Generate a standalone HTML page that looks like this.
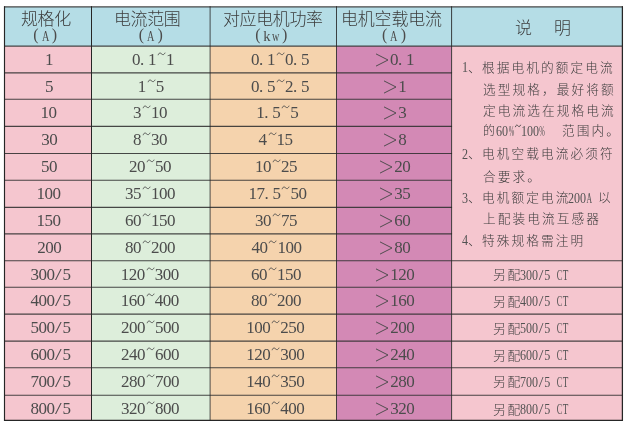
<!DOCTYPE html>
<html lang="zh-CN">
<head>
<meta charset="utf-8">
<title>规格选型表</title>
<style>
html,body{margin:0;padding:0;background:#fff;}
body{width:628px;height:429px;overflow:hidden;position:relative;font-family:"Liberation Serif",serif;color:#454545;}
#tbl{position:absolute;left:0;top:0;width:628px;height:429px;}
#txt{position:absolute;left:0;top:0;width:628px;height:429px;will-change:transform;}
svg{position:absolute;overflow:visible;}
svg.grid{left:0;top:0;}
svg.zh text{font-family:"Liberation Sans","Noto Sans CJK SC",sans-serif;font-weight:300;}
.cell{position:absolute;white-space:nowrap;font-size:17px;line-height:18px;height:18px;text-align:center;letter-spacing:-0.5px;color:#4c4c4c;}
.cell.sub{font-size:15.5px;text-align:left;letter-spacing:0;}
.cell.sub .p{font-size:16px;line-height:10px;position:relative;top:-0.6px;}
.cell span.d{display:inline-block;width:8px;text-align:left;letter-spacing:0;}
.cell span.t{display:inline-block;width:8px;text-align:center;position:relative;top:-5px;letter-spacing:0;font-size:14px;}
.cell svg.gt{position:relative;vertical-align:-1.6px;}
.cell svg.tl{position:relative;vertical-align:5px;top:-4.5px;margin-left:1px;}
.m{display:inline-block;text-align:center;letter-spacing:0;}
.m>i{display:inline-block;font-style:normal;transform-origin:50% 50%;}
.note{position:absolute;white-space:nowrap;font-size:15px;line-height:16px;letter-spacing:0;color:#525252;transform:scaleX(0.805);transform-origin:0 0;}
.note span.t{display:inline-block;width:7.5px;text-align:center;position:relative;top:-4px;font-size:12px;}
</style>
</head>
<body>
<div id="tbl">
<svg class="grid" width="628" height="429" viewBox="0 0 628 429"><rect x="4.5" y="6.9" width="617.9" height="39.25" fill="#b5dde6"/><rect x="4.5" y="46.15" width="87" height="374.25" fill="#f5c6cf"/><rect x="91.5" y="46.15" width="118.6" height="374.25" fill="#ddeedb"/><rect x="210.1" y="46.15" width="126.4" height="374.25" fill="#f5d3ad"/><rect x="336.5" y="46.15" width="115.05" height="374.25" fill="#d389b5"/><rect x="451.55" y="46.15" width="170.85" height="374.25" fill="#f5c6cf"/><g stroke="#303030" stroke-width="1.12" stroke-opacity="0.88" fill="none"><path d="M4.5 46.15 H622.4"/><path d="M4.5 72.9 H452.05"/><path d="M4.5 99.3 H452.05"/><path d="M4.5 126.4 H452.05"/><path d="M4.5 153.5 H452.05"/><path d="M4.5 180.3 H452.05"/><path d="M4.5 207.4 H452.05"/><path d="M4.5 233.9 H452.05"/><path d="M4.5 260.8 H622.4"/><path d="M4.5 287.2 H622.4"/><path d="M4.5 314.1 H622.4"/><path d="M4.5 341.1 H622.4"/><path d="M4.5 367.8 H622.4"/><path d="M4.5 395.2 H622.4"/><path d="M4 6.9 H623"/></g><g stroke="#262626" stroke-width="1" fill="none"><path d="M4 420.4 H623" stroke-width="1.1"/><path d="M4.5 6.2 V420.9" stroke-width="1.15" stroke-opacity="1"/><path d="M91.5 6.2 V420.9" stroke-width="1" stroke-opacity="1"/><path d="M210.1 6.2 V420.9" stroke-width="1" stroke-opacity="0.8"/><path d="M336.5 6.2 V420.9" stroke-width="1" stroke-opacity="0.85"/><path d="M451.55 6.2 V420.9" stroke-width="1.1" stroke-opacity="0.8"/><path d="M622.4 6.2 V420.9" stroke-width="1.25" stroke-opacity="1"/></g></svg>
<div id="txt">
<svg class="zh" role="img" aria-label="规格化" style="left:21.00px;top:9.34px" width="51.80" height="18.69" viewBox="0 -15.66 51.80 18.69" fill="#3c3c3c"><text y="0" font-size="17" x="0 16.6 33.2">规格化</text></svg>
<div class="cell sub" style="left:33.15px;top:27px"><span class="m p" style="width:8px;text-align:left">(</span><span class="m" style="width:8px"><i style="transform:scaleX(0.658);width:11.19px;margin:0 -1.60px">A</i></span><span class="m p" style="width:8px;text-align:right">)</span></div>
<svg class="zh" role="img" aria-label="电流范围" style="left:114.30px;top:9.34px" width="68.40" height="18.69" viewBox="0 -15.66 68.40 18.69" fill="#3c3c3c"><text y="0" font-size="17" x="0 16.6 33.2 49.8">电流范围</text></svg>
<div class="cell sub" style="left:138.75px;top:27px"><span class="m p" style="width:8px;text-align:left">(</span><span class="m" style="width:8px"><i style="transform:scaleX(0.658);width:11.19px;margin:0 -1.60px">A</i></span><span class="m p" style="width:8px;text-align:right">)</span></div>
<svg class="zh" role="img" aria-label="对应电机功率" style="left:222.60px;top:9.34px" width="101.60" height="18.69" viewBox="0 -15.66 101.60 18.69" fill="#3c3c3c"><text y="0" font-size="17" x="0 16.6 33.2 49.8 66.4 83">对应电机功率</text></svg>
<div class="cell sub" style="left:255.25px;top:27px"><span class="m p" style="width:8px;text-align:left">(</span><span class="m" style="width:8px"><i style="transform:scaleX(0.950);width:7.75px;margin:0 0.12px">k</i></span><span class="m" style="width:8px"><i style="transform:scaleX(0.658);width:11.19px;margin:0 -1.60px">w</i></span><span class="m p" style="width:8px;text-align:right">)</span></div>
<svg class="zh" role="img" aria-label="电机空载电流" style="left:341.40px;top:9.34px" width="102.80" height="18.69" viewBox="0 -15.66 102.80 18.69" fill="#3c3c3c"><text y="0" font-size="17" x="0 16.8 33.6 50.4 67.2 84">电机空载电流</text></svg>
<div class="cell sub" style="left:382px;top:27px"><span class="m p" style="width:8px;text-align:left">(</span><span class="m" style="width:8px"><i style="transform:scaleX(0.658);width:11.19px;margin:0 -1.60px">A</i></span><span class="m p" style="width:8px;text-align:right">)</span></div>
<svg class="zh" role="img" aria-label="说" style="left:514.90px;top:17.64px" width="19.00" height="18.69" viewBox="0 -15.66 19.00 18.69" fill="#3c3c3c"><text y="0" font-size="17" x="0">说</text></svg>
<svg class="zh" role="img" aria-label="明" style="left:553.50px;top:17.64px" width="19.00" height="18.69" viewBox="0 -15.66 19.00 18.69" fill="#3c3c3c"><text y="0" font-size="17" x="0">明</text></svg>
<div class="cell" id="c0_0" style="left:-1.00px;top:51.00px;width:100px">1</div>
<div class="cell" id="c1_0" style="left:102.91px;top:51.00px;width:100px">0<span class="d">.</span>1<svg class="tl" width="9" height="4" viewBox="0 0 9 4"><path d="M1.1 3.2 C1.9 0.7 3.3 0.6 4.5 1.8 S6.9 3.1 8.1 0.7" fill="none" stroke="#4a4a4a" stroke-width="0.95"/></svg>1</div>
<div class="cell" id="c2_0" style="left:230.00px;top:51.00px;width:100px">0<span class="d">.</span>1<svg class="tl" width="9" height="4" viewBox="0 0 9 4"><path d="M1.1 3.2 C1.9 0.7 3.3 0.6 4.5 1.8 S6.9 3.1 8.1 0.7" fill="none" stroke="#4a4a4a" stroke-width="0.95"/></svg>0<span class="d">.</span>5</div>
<div class="cell" id="c3_0" style="left:343.91px;top:51.00px;width:100px"><svg class="gt" width="16" height="14" viewBox="0 0 16 14"><path d="M2 0.9 L14 7 L2 13.1" fill="none" stroke="#4a4a4a" stroke-width="0.95"/></svg>0<span class="d">.</span>1</div>
<div class="cell" id="c0_1" style="left:-1.00px;top:78.00px;width:100px">5</div>
<div class="cell" id="c1_1" style="left:100.79px;top:78.00px;width:100px">1<svg class="tl" width="9" height="4" viewBox="0 0 9 4"><path d="M1.1 3.2 C1.9 0.7 3.3 0.6 4.5 1.8 S6.9 3.1 8.1 0.7" fill="none" stroke="#4a4a4a" stroke-width="0.95"/></svg>5</div>
<div class="cell" id="c2_1" style="left:230.00px;top:78.00px;width:100px">0<span class="d">.</span>5<svg class="tl" width="9" height="4" viewBox="0 0 9 4"><path d="M1.1 3.2 C1.9 0.7 3.3 0.6 4.5 1.8 S6.9 3.1 8.1 0.7" fill="none" stroke="#4a4a4a" stroke-width="0.95"/></svg>2<span class="d">.</span>5</div>
<div class="cell" id="c3_1" style="left:344.14px;top:78.00px;width:100px"><svg class="gt" width="16" height="14" viewBox="0 0 16 14"><path d="M2 0.9 L14 7 L2 13.1" fill="none" stroke="#4a4a4a" stroke-width="0.95"/></svg>1</div>
<div class="cell" id="c0_2" style="left:-1.50px;top:104.00px;width:100px">10</div>
<div class="cell" id="c1_2" style="left:100.03px;top:104.00px;width:100px">3<svg class="tl" width="9" height="4" viewBox="0 0 9 4"><path d="M1.1 3.2 C1.9 0.7 3.3 0.6 4.5 1.8 S6.9 3.1 8.1 0.7" fill="none" stroke="#4a4a4a" stroke-width="0.95"/></svg>10</div>
<div class="cell" id="c2_2" style="left:227.33px;top:104.00px;width:100px">1<span class="d">.</span>5<svg class="tl" width="9" height="4" viewBox="0 0 9 4"><path d="M1.1 3.2 C1.9 0.7 3.3 0.6 4.5 1.8 S6.9 3.1 8.1 0.7" fill="none" stroke="#4a4a4a" stroke-width="0.95"/></svg>5</div>
<div class="cell" id="c3_2" style="left:344.22px;top:104.00px;width:100px"><svg class="gt" width="16" height="14" viewBox="0 0 16 14"><path d="M2 0.9 L14 7 L2 13.1" fill="none" stroke="#4a4a4a" stroke-width="0.95"/></svg>3</div>
<div class="cell" id="c0_3" style="left:-0.65px;top:131.00px;width:100px">30</div>
<div class="cell" id="c1_3" style="left:100.03px;top:131.00px;width:100px">8<svg class="tl" width="9" height="4" viewBox="0 0 9 4"><path d="M1.1 3.2 C1.9 0.7 3.3 0.6 4.5 1.8 S6.9 3.1 8.1 0.7" fill="none" stroke="#4a4a4a" stroke-width="0.95"/></svg>30</div>
<div class="cell" id="c2_3" style="left:225.59px;top:131.00px;width:100px">4<svg class="tl" width="9" height="4" viewBox="0 0 9 4"><path d="M1.1 3.2 C1.9 0.7 3.3 0.6 4.5 1.8 S6.9 3.1 8.1 0.7" fill="none" stroke="#4a4a4a" stroke-width="0.95"/></svg>15</div>
<div class="cell" id="c3_3" style="left:344.22px;top:131.00px;width:100px"><svg class="gt" width="16" height="14" viewBox="0 0 16 14"><path d="M2 0.9 L14 7 L2 13.1" fill="none" stroke="#4a4a4a" stroke-width="0.95"/></svg>8</div>
<div class="cell" id="c0_4" style="left:-1.00px;top:158.00px;width:100px">50</div>
<div class="cell" id="c1_4" style="left:100.03px;top:158.00px;width:100px">20<svg class="tl" width="9" height="4" viewBox="0 0 9 4"><path d="M1.1 3.2 C1.9 0.7 3.3 0.6 4.5 1.8 S6.9 3.1 8.1 0.7" fill="none" stroke="#4a4a4a" stroke-width="0.95"/></svg>50</div>
<div class="cell" id="c2_4" style="left:225.91px;top:158.00px;width:100px">10<svg class="tl" width="9" height="4" viewBox="0 0 9 4"><path d="M1.1 3.2 C1.9 0.7 3.3 0.6 4.5 1.8 S6.9 3.1 8.1 0.7" fill="none" stroke="#4a4a4a" stroke-width="0.95"/></svg>25</div>
<div class="cell" id="c3_4" style="left:344.22px;top:158.00px;width:100px"><svg class="gt" width="16" height="14" viewBox="0 0 16 14"><path d="M2 0.9 L14 7 L2 13.1" fill="none" stroke="#4a4a4a" stroke-width="0.95"/></svg>20</div>
<div class="cell" id="c0_5" style="left:-1.50px;top:185.00px;width:100px">100</div>
<div class="cell" id="c1_5" style="left:100.03px;top:185.00px;width:100px">35<svg class="tl" width="9" height="4" viewBox="0 0 9 4"><path d="M1.1 3.2 C1.9 0.7 3.3 0.6 4.5 1.8 S6.9 3.1 8.1 0.7" fill="none" stroke="#4a4a4a" stroke-width="0.95"/></svg>100</div>
<div class="cell" id="c2_5" style="left:227.44px;top:185.00px;width:100px">17<span class="d">.</span>5<svg class="tl" width="9" height="4" viewBox="0 0 9 4"><path d="M1.1 3.2 C1.9 0.7 3.3 0.6 4.5 1.8 S6.9 3.1 8.1 0.7" fill="none" stroke="#4a4a4a" stroke-width="0.95"/></svg>50</div>
<div class="cell" id="c3_5" style="left:344.22px;top:185.00px;width:100px"><svg class="gt" width="16" height="14" viewBox="0 0 16 14"><path d="M2 0.9 L14 7 L2 13.1" fill="none" stroke="#4a4a4a" stroke-width="0.95"/></svg>35</div>
<div class="cell" id="c0_6" style="left:-1.50px;top:212.00px;width:100px">150</div>
<div class="cell" id="c1_6" style="left:100.03px;top:212.00px;width:100px">60<svg class="tl" width="9" height="4" viewBox="0 0 9 4"><path d="M1.1 3.2 C1.9 0.7 3.3 0.6 4.5 1.8 S6.9 3.1 8.1 0.7" fill="none" stroke="#4a4a4a" stroke-width="0.95"/></svg>150</div>
<div class="cell" id="c2_6" style="left:226.06px;top:212.00px;width:100px">30<svg class="tl" width="9" height="4" viewBox="0 0 9 4"><path d="M1.1 3.2 C1.9 0.7 3.3 0.6 4.5 1.8 S6.9 3.1 8.1 0.7" fill="none" stroke="#4a4a4a" stroke-width="0.95"/></svg>75</div>
<div class="cell" id="c3_6" style="left:344.22px;top:212.00px;width:100px"><svg class="gt" width="16" height="14" viewBox="0 0 16 14"><path d="M2 0.9 L14 7 L2 13.1" fill="none" stroke="#4a4a4a" stroke-width="0.95"/></svg>60</div>
<div class="cell" id="c0_7" style="left:-0.65px;top:239.00px;width:100px">200</div>
<div class="cell" id="c1_7" style="left:100.03px;top:239.00px;width:100px">80<svg class="tl" width="9" height="4" viewBox="0 0 9 4"><path d="M1.1 3.2 C1.9 0.7 3.3 0.6 4.5 1.8 S6.9 3.1 8.1 0.7" fill="none" stroke="#4a4a4a" stroke-width="0.95"/></svg>200</div>
<div class="cell" id="c2_7" style="left:226.41px;top:239.00px;width:100px">40<svg class="tl" width="9" height="4" viewBox="0 0 9 4"><path d="M1.1 3.2 C1.9 0.7 3.3 0.6 4.5 1.8 S6.9 3.1 8.1 0.7" fill="none" stroke="#4a4a4a" stroke-width="0.95"/></svg>100</div>
<div class="cell" id="c3_7" style="left:344.22px;top:239.00px;width:100px"><svg class="gt" width="16" height="14" viewBox="0 0 16 14"><path d="M2 0.9 L14 7 L2 13.1" fill="none" stroke="#4a4a4a" stroke-width="0.95"/></svg>80</div>
<div class="cell" id="c0_8" style="left:0.41px;top:266.00px;width:100px">300<span class="m" style="width:8px"><i style="transform:scaleX(1.4);width:4.73px;margin:0 1.64px">/</i></span>5</div>
<div class="cell" id="c1_8" style="left:99.68px;top:266.00px;width:100px">120<svg class="tl" width="9" height="4" viewBox="0 0 9 4"><path d="M1.1 3.2 C1.9 0.7 3.3 0.6 4.5 1.8 S6.9 3.1 8.1 0.7" fill="none" stroke="#4a4a4a" stroke-width="0.95"/></svg>300</div>
<div class="cell" id="c2_8" style="left:226.06px;top:266.00px;width:100px">60<svg class="tl" width="9" height="4" viewBox="0 0 9 4"><path d="M1.1 3.2 C1.9 0.7 3.3 0.6 4.5 1.8 S6.9 3.1 8.1 0.7" fill="none" stroke="#4a4a4a" stroke-width="0.95"/></svg>150</div>
<div class="cell" id="c3_8" style="left:344.22px;top:266.00px;width:100px"><svg class="gt" width="16" height="14" viewBox="0 0 16 14"><path d="M2 0.9 L14 7 L2 13.1" fill="none" stroke="#4a4a4a" stroke-width="0.95"/></svg>120</div>
<div class="cell" id="c0_9" style="left:0.56px;top:292.00px;width:100px">400<span class="m" style="width:8px"><i style="transform:scaleX(1.4);width:4.73px;margin:0 1.64px">/</i></span>5</div>
<div class="cell" id="c1_9" style="left:99.68px;top:292.00px;width:100px">160<svg class="tl" width="9" height="4" viewBox="0 0 9 4"><path d="M1.1 3.2 C1.9 0.7 3.3 0.6 4.5 1.8 S6.9 3.1 8.1 0.7" fill="none" stroke="#4a4a4a" stroke-width="0.95"/></svg>400</div>
<div class="cell" id="c2_9" style="left:226.06px;top:292.00px;width:100px">80<svg class="tl" width="9" height="4" viewBox="0 0 9 4"><path d="M1.1 3.2 C1.9 0.7 3.3 0.6 4.5 1.8 S6.9 3.1 8.1 0.7" fill="none" stroke="#4a4a4a" stroke-width="0.95"/></svg>200</div>
<div class="cell" id="c3_9" style="left:344.22px;top:292.00px;width:100px"><svg class="gt" width="16" height="14" viewBox="0 0 16 14"><path d="M2 0.9 L14 7 L2 13.1" fill="none" stroke="#4a4a4a" stroke-width="0.95"/></svg>160</div>
<div class="cell" id="c0_10" style="left:0.41px;top:319.00px;width:100px">500<span class="m" style="width:8px"><i style="transform:scaleX(1.4);width:4.73px;margin:0 1.64px">/</i></span>5</div>
<div class="cell" id="c1_10" style="left:100.03px;top:319.00px;width:100px">200<svg class="tl" width="9" height="4" viewBox="0 0 9 4"><path d="M1.1 3.2 C1.9 0.7 3.3 0.6 4.5 1.8 S6.9 3.1 8.1 0.7" fill="none" stroke="#4a4a4a" stroke-width="0.95"/></svg>500</div>
<div class="cell" id="c2_10" style="left:225.21px;top:319.00px;width:100px">100<svg class="tl" width="9" height="4" viewBox="0 0 9 4"><path d="M1.1 3.2 C1.9 0.7 3.3 0.6 4.5 1.8 S6.9 3.1 8.1 0.7" fill="none" stroke="#4a4a4a" stroke-width="0.95"/></svg>250</div>
<div class="cell" id="c3_10" style="left:344.22px;top:319.00px;width:100px"><svg class="gt" width="16" height="14" viewBox="0 0 16 14"><path d="M2 0.9 L14 7 L2 13.1" fill="none" stroke="#4a4a4a" stroke-width="0.95"/></svg>200</div>
<div class="cell" id="c0_11" style="left:0.41px;top:346.00px;width:100px">600<span class="m" style="width:8px"><i style="transform:scaleX(1.4);width:4.73px;margin:0 1.64px">/</i></span>5</div>
<div class="cell" id="c1_11" style="left:100.03px;top:346.00px;width:100px">240<svg class="tl" width="9" height="4" viewBox="0 0 9 4"><path d="M1.1 3.2 C1.9 0.7 3.3 0.6 4.5 1.8 S6.9 3.1 8.1 0.7" fill="none" stroke="#4a4a4a" stroke-width="0.95"/></svg>600</div>
<div class="cell" id="c2_11" style="left:225.21px;top:346.00px;width:100px">120<svg class="tl" width="9" height="4" viewBox="0 0 9 4"><path d="M1.1 3.2 C1.9 0.7 3.3 0.6 4.5 1.8 S6.9 3.1 8.1 0.7" fill="none" stroke="#4a4a4a" stroke-width="0.95"/></svg>300</div>
<div class="cell" id="c3_11" style="left:344.22px;top:346.00px;width:100px"><svg class="gt" width="16" height="14" viewBox="0 0 16 14"><path d="M2 0.9 L14 7 L2 13.1" fill="none" stroke="#4a4a4a" stroke-width="0.95"/></svg>240</div>
<div class="cell" id="c0_12" style="left:0.41px;top:373.00px;width:100px">700<span class="m" style="width:8px"><i style="transform:scaleX(1.4);width:4.73px;margin:0 1.64px">/</i></span>5</div>
<div class="cell" id="c1_12" style="left:100.03px;top:373.00px;width:100px">280<svg class="tl" width="9" height="4" viewBox="0 0 9 4"><path d="M1.1 3.2 C1.9 0.7 3.3 0.6 4.5 1.8 S6.9 3.1 8.1 0.7" fill="none" stroke="#4a4a4a" stroke-width="0.95"/></svg>700</div>
<div class="cell" id="c2_12" style="left:225.21px;top:373.00px;width:100px">140<svg class="tl" width="9" height="4" viewBox="0 0 9 4"><path d="M1.1 3.2 C1.9 0.7 3.3 0.6 4.5 1.8 S6.9 3.1 8.1 0.7" fill="none" stroke="#4a4a4a" stroke-width="0.95"/></svg>350</div>
<div class="cell" id="c3_12" style="left:344.22px;top:373.00px;width:100px"><svg class="gt" width="16" height="14" viewBox="0 0 16 14"><path d="M2 0.9 L14 7 L2 13.1" fill="none" stroke="#4a4a4a" stroke-width="0.95"/></svg>280</div>
<div class="cell" id="c0_13" style="left:0.41px;top:400.00px;width:100px">800<span class="m" style="width:8px"><i style="transform:scaleX(1.4);width:4.73px;margin:0 1.64px">/</i></span>5</div>
<div class="cell" id="c1_13" style="left:100.03px;top:400.00px;width:100px">320<svg class="tl" width="9" height="4" viewBox="0 0 9 4"><path d="M1.1 3.2 C1.9 0.7 3.3 0.6 4.5 1.8 S6.9 3.1 8.1 0.7" fill="none" stroke="#4a4a4a" stroke-width="0.95"/></svg>800</div>
<div class="cell" id="c2_13" style="left:225.21px;top:400.00px;width:100px">160<svg class="tl" width="9" height="4" viewBox="0 0 9 4"><path d="M1.1 3.2 C1.9 0.7 3.3 0.6 4.5 1.8 S6.9 3.1 8.1 0.7" fill="none" stroke="#4a4a4a" stroke-width="0.95"/></svg>400</div>
<div class="cell" id="c3_13" style="left:344.22px;top:400.00px;width:100px"><svg class="gt" width="16" height="14" viewBox="0 0 16 14"><path d="M2 0.9 L14 7 L2 13.1" fill="none" stroke="#4a4a4a" stroke-width="0.95"/></svg>320</div>
<svg class="zh" role="img" aria-label="另配" style="left:492.60px;top:267.33px" width="31.20" height="14.28" viewBox="0 -11.97 31.20 14.28" fill="#3c3c3c"><text y="0" font-size="12.8" x="0 14.6">另配</text></svg>
<div class="note" style="left:520.2px;top:266.60px"><span class="m" style="width:7.5px">3</span><span class="m" style="width:7.5px">0</span><span class="m" style="width:7.5px">0</span><span class="m" style="width:7.5px"><i style="transform:scaleX(1.4);width:4.17px;margin:0 1.67px">/</i></span><span class="m" style="width:7.5px">5</span><span class="m" style="width:7.5px">&nbsp;</span><span class="m" style="width:7.5px"><i style="transform:scaleX(0.690);width:10.01px;margin:0 -1.25px">C</i></span><span class="m" style="width:7.5px"><i style="transform:scaleX(0.753);width:9.16px;margin:0 -0.83px">T</i></span></div>
<svg class="zh" role="img" aria-label="另配" style="left:492.60px;top:293.73px" width="31.20" height="14.28" viewBox="0 -11.97 31.20 14.28" fill="#3c3c3c"><text y="0" font-size="12.8" x="0 14.6">另配</text></svg>
<div class="note" style="left:520.2px;top:293.00px"><span class="m" style="width:7.5px">4</span><span class="m" style="width:7.5px">0</span><span class="m" style="width:7.5px">0</span><span class="m" style="width:7.5px"><i style="transform:scaleX(1.4);width:4.17px;margin:0 1.67px">/</i></span><span class="m" style="width:7.5px">5</span><span class="m" style="width:7.5px">&nbsp;</span><span class="m" style="width:7.5px"><i style="transform:scaleX(0.690);width:10.01px;margin:0 -1.25px">C</i></span><span class="m" style="width:7.5px"><i style="transform:scaleX(0.753);width:9.16px;margin:0 -0.83px">T</i></span></div>
<svg class="zh" role="img" aria-label="另配" style="left:492.60px;top:320.63px" width="31.20" height="14.28" viewBox="0 -11.97 31.20 14.28" fill="#3c3c3c"><text y="0" font-size="12.8" x="0 14.6">另配</text></svg>
<div class="note" style="left:520.2px;top:319.90px"><span class="m" style="width:7.5px">5</span><span class="m" style="width:7.5px">0</span><span class="m" style="width:7.5px">0</span><span class="m" style="width:7.5px"><i style="transform:scaleX(1.4);width:4.17px;margin:0 1.67px">/</i></span><span class="m" style="width:7.5px">5</span><span class="m" style="width:7.5px">&nbsp;</span><span class="m" style="width:7.5px"><i style="transform:scaleX(0.690);width:10.01px;margin:0 -1.25px">C</i></span><span class="m" style="width:7.5px"><i style="transform:scaleX(0.753);width:9.16px;margin:0 -0.83px">T</i></span></div>
<svg class="zh" role="img" aria-label="另配" style="left:492.60px;top:347.63px" width="31.20" height="14.28" viewBox="0 -11.97 31.20 14.28" fill="#3c3c3c"><text y="0" font-size="12.8" x="0 14.6">另配</text></svg>
<div class="note" style="left:520.2px;top:346.90px"><span class="m" style="width:7.5px">6</span><span class="m" style="width:7.5px">0</span><span class="m" style="width:7.5px">0</span><span class="m" style="width:7.5px"><i style="transform:scaleX(1.4);width:4.17px;margin:0 1.67px">/</i></span><span class="m" style="width:7.5px">5</span><span class="m" style="width:7.5px">&nbsp;</span><span class="m" style="width:7.5px"><i style="transform:scaleX(0.690);width:10.01px;margin:0 -1.25px">C</i></span><span class="m" style="width:7.5px"><i style="transform:scaleX(0.753);width:9.16px;margin:0 -0.83px">T</i></span></div>
<svg class="zh" role="img" aria-label="另配" style="left:492.60px;top:374.33px" width="31.20" height="14.28" viewBox="0 -11.97 31.20 14.28" fill="#3c3c3c"><text y="0" font-size="12.8" x="0 14.6">另配</text></svg>
<div class="note" style="left:520.2px;top:373.60px"><span class="m" style="width:7.5px">7</span><span class="m" style="width:7.5px">0</span><span class="m" style="width:7.5px">0</span><span class="m" style="width:7.5px"><i style="transform:scaleX(1.4);width:4.17px;margin:0 1.67px">/</i></span><span class="m" style="width:7.5px">5</span><span class="m" style="width:7.5px">&nbsp;</span><span class="m" style="width:7.5px"><i style="transform:scaleX(0.690);width:10.01px;margin:0 -1.25px">C</i></span><span class="m" style="width:7.5px"><i style="transform:scaleX(0.753);width:9.16px;margin:0 -0.83px">T</i></span></div>
<svg class="zh" role="img" aria-label="另配" style="left:492.60px;top:401.73px" width="31.20" height="14.28" viewBox="0 -11.97 31.20 14.28" fill="#3c3c3c"><text y="0" font-size="12.8" x="0 14.6">另配</text></svg>
<div class="note" style="left:520.2px;top:401.00px"><span class="m" style="width:7.5px">8</span><span class="m" style="width:7.5px">0</span><span class="m" style="width:7.5px">0</span><span class="m" style="width:7.5px"><i style="transform:scaleX(1.4);width:4.17px;margin:0 1.67px">/</i></span><span class="m" style="width:7.5px">5</span><span class="m" style="width:7.5px">&nbsp;</span><span class="m" style="width:7.5px"><i style="transform:scaleX(0.690);width:10.01px;margin:0 -1.25px">C</i></span><span class="m" style="width:7.5px"><i style="transform:scaleX(0.753);width:9.16px;margin:0 -0.83px">T</i></span></div>
<div class="note" style="left:461.5px;top:59.40px">1</div>
<svg class="zh" role="img" aria-label="、" style="left:467.50px;top:60.75px" width="16.75" height="13.55" viewBox="0 -11.35 16.75 13.55" fill="#3c3c3c"><text y="0" font-size="12.7" x="0">、</text></svg>
<svg class="zh" role="img" aria-label="根据电机的额定电流" style="left:482.15px;top:60.75px" width="134.75" height="13.55" viewBox="0 -11.35 134.75 13.55" fill="#3c3c3c"><text y="0" font-size="12.7" x="0 14.75 29.5 44.25 59 73.75 88.5 103.25 118">根据电机的额定电流</text></svg>
<svg class="zh" role="img" aria-label="选型规格，最好将额" style="left:483.15px;top:83.35px" width="134.75" height="13.55" viewBox="0 -11.35 134.75 13.55" fill="#3c3c3c"><text y="0" font-size="12.7" x="0 14.75 29.5 44.25 59 73.75 88.5 103.25 118">选型规格，最好将额</text></svg>
<svg class="zh" role="img" aria-label="定电流选在规格电流" style="left:483.15px;top:103.95px" width="134.75" height="13.55" viewBox="0 -11.35 134.75 13.55" fill="#3c3c3c"><text y="0" font-size="12.7" x="0 14.75 29.5 44.25 59 73.75 88.5 103.25 118">定电流选在规格电流</text></svg>
<svg class="zh" role="img" aria-label="的" style="left:483.20px;top:124.25px" width="14.00" height="13.55" viewBox="0 -11.35 14.00 13.55" fill="#3c3c3c"><text y="0" font-size="12" x="0">的</text></svg>
<div class="note" style="left:496px;top:122.90px"><span class="m" style="width:7.5px">6</span><span class="m" style="width:7.5px">0</span><span class="m" style="width:7.5px"><i style="transform:scaleX(0.552);width:12.49px;margin:0 -2.50px">%</i></span><svg class="tl" style="position:relative;vertical-align:4px;top:-4px" width="8.5" height="4" viewBox="0 0 9 4"><path d="M1.1 3.2 C1.9 0.7 3.3 0.6 4.5 1.8 S6.9 3.1 8.1 0.7" fill="none" stroke="#444" stroke-width="1.05"/></svg><span class="m" style="width:7.5px">1</span><span class="m" style="width:7.5px">0</span><span class="m" style="width:7.5px">0</span><span class="m" style="width:7.5px"><i style="transform:scaleX(0.552);width:12.49px;margin:0 -2.50px">%</i></span></div>
<svg class="zh" role="img" aria-label="范围内。" style="left:562.15px;top:124.25px" width="61.00" height="13.55" viewBox="0 -11.35 61.00 13.55" fill="#3c3c3c"><text y="0" font-size="12.7" x="0 14.75 29.5 44.25">范围内。</text></svg>
<div class="note" style="left:461.5px;top:145.80px">2</div>
<svg class="zh" role="img" aria-label="、" style="left:467.50px;top:147.15px" width="16.75" height="13.55" viewBox="0 -11.35 16.75 13.55" fill="#3c3c3c"><text y="0" font-size="12.7" x="0">、</text></svg>
<svg class="zh" role="img" aria-label="电机空载电流必须符" style="left:482.15px;top:147.15px" width="134.75" height="13.55" viewBox="0 -11.35 134.75 13.55" fill="#3c3c3c"><text y="0" font-size="12.7" x="0 14.75 29.5 44.25 59 73.75 88.5 103.25 118">电机空载电流必须符</text></svg>
<svg class="zh" role="img" aria-label="合要求。" style="left:483.15px;top:169.75px" width="61.00" height="13.55" viewBox="0 -11.35 61.00 13.55" fill="#3c3c3c"><text y="0" font-size="12.7" x="0 14.75 29.5 44.25">合要求。</text></svg>
<div class="note" style="left:461.5px;top:190.10px">3</div>
<svg class="zh" role="img" aria-label="、" style="left:467.50px;top:191.45px" width="16.75" height="13.55" viewBox="0 -11.35 16.75 13.55" fill="#3c3c3c"><text y="0" font-size="12.7" x="0">、</text></svg>
<svg class="zh" role="img" aria-label="电机额定电流" style="left:482.15px;top:191.45px" width="90.50" height="13.55" viewBox="0 -11.35 90.50 13.55" fill="#3c3c3c"><text y="0" font-size="12.7" x="0 14.75 29.5 44.25 59 73.75">电机额定电流</text></svg>
<div class="note" style="left:567.5px;top:190.10px"><span class="m" style="width:7.5px">2</span><span class="m" style="width:7.5px">0</span><span class="m" style="width:7.5px">0</span><span class="m" style="width:7.5px"><i style="transform:scaleX(0.637);width:10.83px;margin:0 -1.67px">A</i></span></div>
<svg class="zh" role="img" aria-label="以" style="left:598.35px;top:191.45px" width="14.70" height="13.55" viewBox="0 -11.35 14.70 13.55" fill="#3c3c3c"><text y="0" font-size="12.7" x="0">以</text></svg>
<svg class="zh" role="img" aria-label="上配装电流互感器" style="left:483.15px;top:212.45px" width="120.00" height="13.55" viewBox="0 -11.35 120.00 13.55" fill="#3c3c3c"><text y="0" font-size="12.7" x="0 14.75 29.5 44.25 59 73.75 88.5 103.25">上配装电流互感器</text></svg>
<div class="note" style="left:461.5px;top:232.30px">4</div>
<svg class="zh" role="img" aria-label="、" style="left:467.50px;top:233.65px" width="16.75" height="13.55" viewBox="0 -11.35 16.75 13.55" fill="#3c3c3c"><text y="0" font-size="12.7" x="0">、</text></svg>
<svg class="zh" role="img" aria-label="特殊规格需注明" style="left:482.15px;top:233.65px" width="105.25" height="13.55" viewBox="0 -11.35 105.25 13.55" fill="#3c3c3c"><text y="0" font-size="12.7" x="0 14.75 29.5 44.25 59 73.75 88.5">特殊规格需注明</text></svg>
</div>
</div>
</body>
</html>
